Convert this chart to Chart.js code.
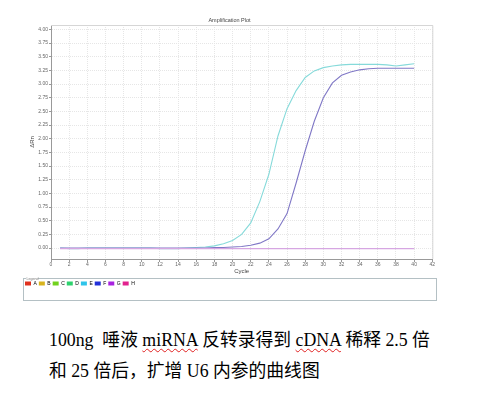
<!DOCTYPE html>
<html>
<head>
<meta charset="utf-8">
<script src="https://cdn.jsdelivr.net/npm/chart.js@4"></script>
<style>
  html, body { margin: 0; padding: 0; background: #fff; }
  body { width: 482px; height: 395px; position: relative; overflow: hidden; }
  #plot { position: absolute; left: 0; top: 0; }
  .caption {
    position: absolute; left: 49px; top: 325px;
    font-family: "Liberation Serif", "Noto Sans CJK SC", serif;
    font-size: 17.8px; line-height: 31px; color: #000;
    white-space: pre;
  }
  .spell { text-decoration: underline wavy #e02020; text-decoration-thickness: 1px; text-underline-offset: 2px; }
</style>
</head>
<body>
<canvas id="plot" width="482" height="305"></canvas>
<div class="caption">100ng  唾液 <span class="spell">miRNA</span> 反转录得到 <span class="spell">cDNA</span> 稀释 2.5 倍
和 25 倍后，扩增 U6 内参的曲线图</div>
<script>
const cycles = [1, 2, 3, 4, 5, 6, 7, 8, 9, 10, 11, 12, 13, 14, 15, 16, 17, 18, 19, 20,
  21, 22, 23, 24, 25, 26, 27, 28, 29, 30, 31, 32, 33, 34, 35, 36, 37, 38, 39, 40];

// well E (2.5x dilution)
const wellE = [0.00, -0.01, -0.01, 0.00, 0.00, 0.00, 0.00, 0.00, 0.00, 0.00,
  0.00, -0.01, -0.01, -0.01, 0.00, 0.01, 0.02, 0.04, 0.08, 0.14,
  0.25, 0.46, 0.85, 1.35, 2.05, 2.55, 2.88, 3.12, 3.24, 3.30,
  3.33, 3.35, 3.36, 3.36, 3.36, 3.36, 3.35, 3.33, 3.35, 3.37];

// well F (25x dilution)
const wellF = [0.00, 0.00, 0.00, 0.00, 0.00, 0.00, 0.00, 0.00, 0.00, 0.00,
  0.00, 0.00, 0.00, 0.00, 0.00, 0.00, 0.00, 0.01, 0.01, 0.02,
  0.03, 0.05, 0.09, 0.17, 0.35, 0.63, 1.19, 1.78, 2.32, 2.75,
  3.02, 3.16, 3.22, 3.26, 3.28, 3.29, 3.29, 3.29, 3.29, 3.29];

// well G (no template)
const wellG = [-0.01, -0.01, -0.01, -0.01, -0.01, -0.01, -0.01, -0.01, -0.01, -0.01,
  -0.01, -0.01, -0.01, -0.01, -0.01, -0.01, -0.01, -0.01, -0.01, -0.01,
  -0.01, -0.01, -0.01, -0.01, -0.01, -0.01, -0.01, -0.01, -0.01, -0.01,
  -0.01, -0.01, -0.01, -0.01, -0.01, -0.01, -0.01, -0.01, -0.01, -0.01];

const legendNames = ['A', 'B', 'C', 'D', 'E', 'F', 'G', 'H'];
const legendColors = ['#e0321e', '#d8b41e', '#72d21e', '#2ed26e', '#2ec4ea', '#2230d8', '#a822e0', '#e2228e'];
const yTicks = [0, 0.25, 0.5, 0.75, 1, 1.25, 1.5, 1.75, 2, 2.25, 2.5, 2.75, 3, 3.25, 3.5, 3.75, 4];

const toPoints = (vals) => vals.map((v, i) => ({ x: cycles[i], y: v }));

// top/right plot border + box around the legend
const frames = {
  id: 'frames',
  beforeDatasetsDraw(chart) {
    const { ctx, chartArea: a } = chart;
    ctx.save();
    ctx.strokeStyle = '#d6d6d6';
    ctx.lineWidth = 1;
    ctx.beginPath();
    ctx.moveTo(a.left, a.top + 0.5);
    ctx.lineTo(a.right + 0.5, a.top + 0.5);
    ctx.lineTo(a.right + 0.5, a.bottom);
    ctx.stroke();
    ctx.restore();
  },
  afterDraw(chart) {
    const { ctx, legend } = chart;
    const top = Math.round(legend.top) - 0.5;
    ctx.save();
    ctx.strokeStyle = '#b4c0c4';
    ctx.lineWidth = 1;
    ctx.strokeRect(legend.left + 0.5, top, legend.right - legend.left, 22);
    ctx.font = '3.6px "Liberation Sans"';
    ctx.fillStyle = '#fff';
    ctx.fillRect(legend.left + 3, top - 1, 12, 2);
    ctx.fillStyle = '#777';
    ctx.textBaseline = 'middle';
    ctx.fillText('Legend', legend.left + 3.5, top);
    ctx.restore();
  }
};

new Chart(document.getElementById('plot').getContext('2d'), {
  type: 'line',
  data: {
    datasets: [
      { label: 'G', data: toPoints(wellG), borderColor: '#d6a6e2', borderWidth: 1.1, pointRadius: 0 },
      { label: 'F', data: toPoints(wellF), borderColor: '#8078c6', borderWidth: 1.1, pointRadius: 0 },
      { label: 'E', data: toPoints(wellE), borderColor: '#86dada', borderWidth: 1.1, pointRadius: 0 },
    ],
  },
  options: {
    responsive: false,
    animation: false,
    layout: { padding: { left: 23, right: 46, top: 0, bottom: 9 } },
    plugins: {
      title: {
        display: true,
        text: 'Amplification Plot',
        color: '#444',
        font: { family: 'Liberation Sans', size: 5.5, weight: 'normal' },
        padding: { top: 17, bottom: 1.4 },
      },
      legend: {
        position: 'bottom',
        align: 'start',
        labels: {
          boxWidth: 6,
          boxHeight: 4,
          padding: 2,
          color: '#555',
          font: { family: 'Liberation Sans', size: 5 },
          generateLabels: () => legendNames.map((name, i) => ({
            text: name,
            fillStyle: legendColors[i],
            strokeStyle: legendColors[i],
            lineWidth: 0,
            hidden: false,
          })),
        },
      },
      tooltip: { enabled: false },
    },
    scales: {
      x: {
        type: 'linear',
        min: 0,
        max: 42,
        ticks: { stepSize: 2, autoSkip: false, maxRotation: 0, padding: 0, color: '#666', font: { family: 'Liberation Sans', size: 5 } },
        grid: { color: '#e6e6e6', tickLength: 3, tickColor: '#999' },
        border: { color: '#999', dash: [1, 1] },
        title: { display: true, text: 'Cycle', color: '#444', font: { family: 'Liberation Sans', size: 6 }, padding: { top: 0, bottom: 3.8 } },
      },
      y: {
        min: -0.2,
        max: 4.08,
        afterBuildTicks: (scale) => { scale.ticks = yTicks.map((v) => ({ value: v })); },
        afterFit: (scale) => { scale.width = 28; },
        ticks: { padding: 1, color: '#666', font: { family: 'Liberation Sans', size: 5 }, callback: (v) => Number(v).toFixed(2) },
        grid: { color: '#e6e6e6', tickLength: 2, tickColor: '#999' },
        border: { color: '#999', dash: [1, 1] },
        title: { display: true, text: 'ΔRn', color: '#444', font: { family: 'Liberation Sans', size: 6 }, padding: { top: 5.4, bottom: 0 } },
      },
      y2: {
        position: 'right',
        afterFit: (scale) => { scale.width = 3.7; },
        ticks: { display: false },
        grid: { display: false },
        border: { display: false },
      },
    },
  },
  plugins: [frames],
});
</script>
</body>
</html>
